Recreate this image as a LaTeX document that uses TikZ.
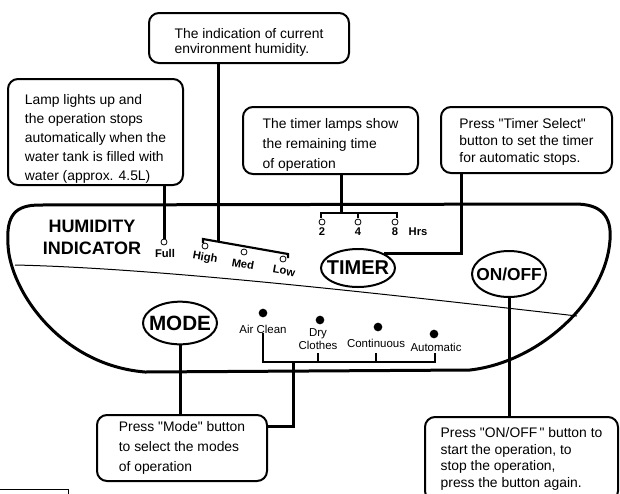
\documentclass[tikz,border=0pt]{standalone}
\usepackage{fontspec}
\setmainfont{Liberation Sans}
\usepackage{tikz}
\usetikzlibrary{calc,shapes.geometric}

\newcommand{\firstgap}[1]{\rule{0pt}{#1}}
\newcommand{\qq}{\textquotedbl}

\tikzset{
  note/.style={draw, line width=1.5pt, rounded corners=7.5pt, align=left, inner xsep=4pt, inner ysep=0pt},
  button/.style={ellipse, draw, line width=1.5pt, inner xsep=-10pt, inner ysep=0pt, minimum width=55.5pt},
  lamp/.style={circle, draw, line width=0.6pt, minimum size=4.5pt, inner sep=0pt},
  modelamp/.style={circle, fill, minimum size=6.5pt, inner sep=0pt},
  lamplbl/.style={font=\bfseries\fontsize{8.4}{9}\selectfont, inner sep=0pt},
  modelbl/.style={font=\fontsize{8.6}{9.2}\selectfont, inner sep=0pt, align=center},
  lead/.style={line width=2.25pt},
  bar/.style={line width=1.6pt},
}

\begin{document}
\begin{tikzpicture}[x=0.75pt,y=-0.75pt]
	\useasboundingbox (0,0) rectangle (620,493);
	% panel
	\draw[line width=2.25pt] (40,205) -- (575,204) .. controls (600,204) and (612,215) .. (610,240)
	  .. controls (606,300) and (540,362) .. (470,370) -- (145,372)
	  .. controls (60,365) and (10,290) .. (8,245) .. controls (6,215) and (15,205) .. (40,205) -- cycle;
	\draw[line width=0.75pt] (15,265) .. controls (150,268) and (350,290) .. (577,316);
	\draw[line width=0.75pt] (-2,489) rectangle (68,530);
	\node[font=\bfseries\fontsize{13.5}{16.5}\selectfont, align=center] (humlbl) at (92,237) {HUMIDITY\\INDICATOR};
	% lamps
	\node[lamp] (full) at (164,242) {};
	\node[lamplbl] (fulllbl) at (165,253) {Full};
	\node[lamp] (high) at (205,246) {};
	\node[lamp] (med) at (244,252) {};
	\node[lamp] (low) at (283,259) {};
	\node[lamplbl, rotate=-10] (highlbl) at (205,258) {High};
	\node[lamplbl, rotate=-10] (medlbl) at (243,264) {Med};
	\node[lamplbl, rotate=-10] (lowlbl) at (284,271) {Low};
	\node[lamp] (t2) at (322,222) {};
	\node[lamp] (t4) at (358,222) {};
	\node[lamp] (t8) at (395,222) {};
	\node[lamplbl] (t2lbl) at (322,232) {2};
	\node[lamplbl] (t4lbl) at (358,232) {4};
	\node[lamplbl] (t8lbl) at (395,232) {8};
	\node[lamplbl] (hrslbl) at (418,232) {Hrs};
	% buttons
	\node[button, minimum height=28.5pt, font=\bfseries\fontsize{15}{15}\selectfont] (timer) at (358,268) {TIMER};
	\node[button, minimum height=34.5pt, font=\bfseries\fontsize{13}{13}\selectfont] (onoff) at (509,274) {ON/OFF};
	\node[button, minimum height=32pt, font=\bfseries\fontsize{15.5}{15.5}\selectfont] (mode) at (180,323) {MODE};
	% mode lamps
	\node[modelamp] (aclean) at (263,313) {};
	\node[modelbl] (acleanlbl) at (263,329) {Air Clean};
	\node[modelamp] (dry) at (320,320) {};
	\node[modelbl] (drylbl) at (318,339) {Dry\\Clothes};
	\node[modelamp] (cont) at (378,327) {};
	\node[modelbl] (contlbl) at (376,343) {Continuous};
	\node[modelamp] (auto) at (434,334) {};
	\node[modelbl] (autolbl) at (436,347) {Automatic};
	% notes
	\node[note, minimum width=150pt, minimum height=37.5pt, font=\fontsize{10.4}{11.25}\selectfont] (humbox) at (249,38) {\firstgap{14.5pt}The indication of current\\environment humidity.};
	\node[note, minimum width=131.25pt, minimum height=79.5pt, font=\fontsize{10.4}{14.25}\selectfont] (lampbox) at (95.5,132) {\firstgap{17.5pt}Lamp lights up and\\the operation stops\\automatically when the\\water tank is filled with\\water (approx. 4.5L)};
	\node[note, minimum width=131.25pt, minimum height=50.25pt, font=\fontsize{10.4}{15}\selectfont] (lampsbox) at (330.5,140.5) {\firstgap{14.5pt}The timer lamps show\\the remaining time\\of operation};
	\node[note, minimum width=128.25pt, minimum height=49.5pt, font=\fontsize{10.4}{12.75}\selectfont] (selectbox) at (526.5,140) {\firstgap{10pt}Press \qq Timer Select\qq\\button to set the timer\\for automatic stops.};
	\node[note, minimum width=127.5pt, minimum height=49.5pt, font=\fontsize{10.4}{15}\selectfont] (modebox) at (182,448) {Press \qq Mode\qq\ button\\to select the modes\\of operation};
	\node[note, minimum width=144.75pt, minimum height=63pt, font=\fontsize{10.4}{12.5}\selectfont] (onoffbox) at (521.5,459) {Press \qq ON/OFF\,\qq\ button to\\start the operation, to\\stop the operation,\\press the button again.};
	% connectors
	\draw[lead] (lampbox.south -| full) -- (full.north);
	\draw[bar] (203,243) -- (203,239) -- (288,254) -- (288,258);
	\coordinate (humjoin) at (218,241.6);
	\draw[lead] (humbox.south -| humjoin) -- (humjoin);
	\draw[bar] (321,218) -- (321,213) -- (397,213) -- (397,218);
	\draw[bar] (358,213) -- (358,218);
	\coordinate (tmrjoin) at (341,213);
	\draw[lead] (lampsbox.south -| tmrjoin) -- (tmrjoin);
	\coordinate (selx) at (461,0);
	\draw[lead] (selectbox.south -| selx) |- (timer.30);
	\draw[lead] (onoff.south) -- (onoff.south |- onoffbox.north);
	\draw[lead] (mode.south) -- (mode.south |- modebox.north);
	\coordinate (mbarR) at (435,362);
	\draw[bar] (acleanlbl.south) |- (mbarR) -- ++(0,-9);
	\draw[bar] (drylbl.south |- mbarR) -- ++(0,-9);
	\draw[bar] (contlbl.south |- mbarR) -- ++(0,-9);
	\coordinate (mjoin) at (293,362);
	\draw[lead] (mjoin) |- ([yshift=16.5pt]modebox.east);
\end{tikzpicture}
\end{document}
